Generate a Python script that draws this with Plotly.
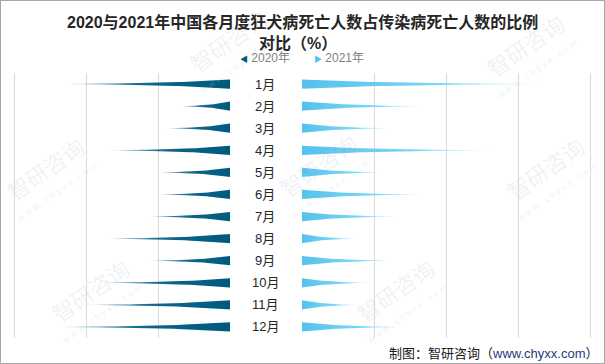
import plotly.graph_objects as go
import numpy as np

# ---------------- data ----------------
months = ["1月", "2月", "3月", "4月", "5月", "6月",
          "7月", "8月", "9月", "10月", "11月", "12月"]
v2020 = [1.16, 0.34, 0.44, 0.84, 0.50, 0.50, 0.57, 0.85, 0.56, 0.91, 0.99, 1.20]
v2021 = [1.68, 0.85, 0.63, 1.35, 0.58, 0.85, 0.68, 0.37, 0.64, 0.48, 0.38, 0.72]
grid_left = [0, 0.5, 1.0, 1.5]
grid_right = [0, 0.5, 1.0, 1.5, 2.0]
series_names = ["2020年", "2021年"]
title_line1 = "2020与2021年中国各月度狂犬病死亡人数占传染病死亡人数的比例"
title_line2 = "对比（%）"
source_text = "制图：智研咨询（<span style='color:#1f3a7a'>www.chyxx.com</span>）"

W, H = 605, 364
FONT = "Liberation Sans, Noto Sans CJK SC, sans-serif"

left_scale = [[0, "#005a7e"], [0.45, "#0a6489"], [0.8, "rgba(25,110,150,0.85)"],
              [1, "rgba(90,150,185,0.35)"]]
right_scale = [[0, "#55c2ec"], [0.55, "#78d5f6"], [0.82, "rgba(140,222,250,0.8)"],
               [1, "rgba(200,238,252,0.35)"]]

fig = go.Figure()

t = np.linspace(0, 1, 50)
half = 0.21 * (0.72 * (1 - t) ** 3 + 0.28 * (1 - t))


def spike(i, v, xaxis, scale):
    xs = np.concatenate([v * t, (v * t)[::-1]])
    ys = np.concatenate([i - half, (i + half)[::-1]])
    fig.add_trace(go.Scatter(
        x=xs, y=ys, xaxis=xaxis, yaxis="y", mode="lines",
        line=dict(width=0), fill="toself",
        fillgradient=dict(type="horizontal", colorscale=scale, start=0, stop=v),
        hoverinfo="skip", showlegend=False))


for i, v in enumerate(v2020):
    spike(i, v, "x", left_scale)
for i, v in enumerate(v2021):
    spike(i, v, "x2", right_scale)

PX = 144.0  # pixels per unit
lo, hiL, hiR = -0.002, 1.55, 2.03
ydom = [1 - 338 / H, 1 - 73 / H]
grid = dict(showgrid=True, gridcolor="#d9d9d9", gridwidth=1, zeroline=False,
            showticklabels=False, ticks="", tickmode="array", showline=False,
            fixedrange=True)

fig.update_layout(
    width=W, height=H,
    margin=dict(l=0, r=0, t=0, b=0),
    paper_bgcolor="white", plot_bgcolor="rgba(0,0,0,0)",
    xaxis=dict(domain=[(230 - hiL * PX) / W, (230 - lo * PX) / W], range=[hiL, lo],
               anchor="y", tickvals=grid_left, **grid),
    xaxis2=dict(domain=[(302 + lo * PX) / W, (302 + hiR * PX) / W], range=[lo, hiR],
                anchor="y", tickvals=grid_right, **grid),
    yaxis=dict(domain=ydom, range=[11.5, -0.5], showgrid=False, zeroline=False,
               showticklabels=False, ticks="", fixedrange=True),
    showlegend=False,
    font=dict(family=FONT),
)

ann = []
# faint watermarks
wm_centers = [(228, 40), (525, 45), (45, 168), (318, 165), (545, 168), (90, 290), (395, 290)]
for cx, cy in wm_centers:
    ann.append(dict(x=cx / W, y=1 - cy / H, xref="paper", yref="paper",
                    xanchor="center", yanchor="middle",
                    text="智研咨询", showarrow=False, textangle=-35,
                    font=dict(size=22, color="rgba(185,195,210,0.22)",
                              family="Noto Sans CJK SC")))
    ann.append(dict(x=(cx + 12) / W, y=1 - (cy + 24) / H, xref="paper", yref="paper",
                    xanchor="center", yanchor="middle",
                    text="w w w . c h y x x . c o m", showarrow=False, textangle=-35,
                    font=dict(size=9, color="rgba(185,195,210,0.25)", family=FONT)))


def pa(x, y, text, size, color, xanchor="center"):
    return dict(x=x / W, y=1 - y / H, xref="paper", yref="paper", text=text,
                xanchor=xanchor, yanchor="middle", showarrow=False,
                font=dict(size=size, color=color, family=FONT))


# title
ann.append(pa(302, 22, f"<b>{title_line1}</b>", 16, "#262626"))
ann.append(pa(298, 43, f"<b>{title_line2}</b>", 16, "#262626"))

# legend
ann.append(pa(265, 58, f"<span style='color:#005a7e;font-size:8px'>◀</span> {series_names[0]}",
              12, "#7f7f7f"))
ann.append(pa(339, 58, f"<span style='color:#55c2ec;font-size:8px'>▶</span> {series_names[1]}",
              12, "#7f7f7f"))

# month labels
for i, m in enumerate(months):
    ann.append(dict(x=265 / W, y=i, xref="paper", yref="y", text=m, showarrow=False,
                    xanchor="center", yanchor="middle",
                    font=dict(size=13, color="#262626", family=FONT)))

# source
ann.append(pa(601, 353, source_text, 13, "#1a1a1a", xanchor="right"))

fig.update_layout(annotations=ann)

fig.add_shape(type="rect", xref="paper", yref="paper", x0=0, y0=0, x1=1, y1=1,
              line=dict(color="#a6a6a6", width=2))

fig.write_html("out.html",
               config={"displayModeBar": False, "staticPlot": True},
               post_script="document.body.style.margin='0';document.body.style.overflow='hidden';")
